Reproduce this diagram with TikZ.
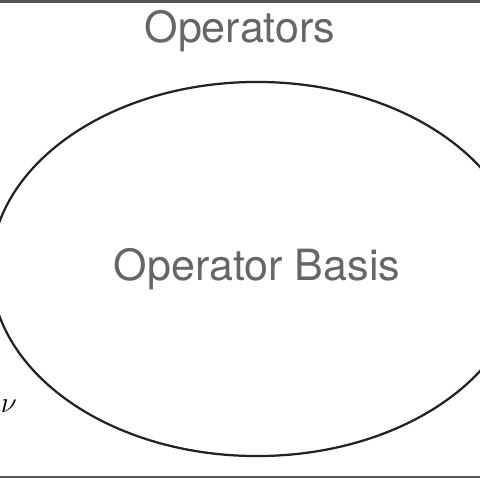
\documentclass[tikz,border=0pt]{standalone}
\usepackage{fontspec}
\setmainfont{TeX Gyre Heros}
\usetikzlibrary{shapes.geometric}

\definecolor{labelgray}{HTML}{666666}
\definecolor{framegray}{HTML}{555555}
\definecolor{edgedark}{HTML}{222222}

\begin{document}
\begin{tikzpicture}[
    x=0.025cm, y=-0.025cm,
    title/.style={text=labelgray, font=\fontsize{30.6}{36}\selectfont, inner sep=0pt},
    setshape/.style={draw=edgedark, ellipse, line width=1.6pt, minimum width=13.3cm, minimum height=9.35cm, inner sep=0pt, text=labelgray, font=\fontsize{30.6}{36}\selectfont}
]

% Page
\useasboundingbox (0,0) rectangle (480,480);
\clip (0,0) rectangle (480,480);

% Frame
\draw[framegray, line width=1.6pt] (-10,1.5) rectangle (490,477);

% Labels
\node[title] (ops) at (240,31) {Operators};

% Basis
\node[setshape] (basis) at (257,269) {Operator Basis};

% Cut off index
\node[anchor=east, inner sep=0pt, font=\fontsize{21}{24}\selectfont] (idx) at (17,406) {$\nu$};

\end{tikzpicture}
\end{document}
